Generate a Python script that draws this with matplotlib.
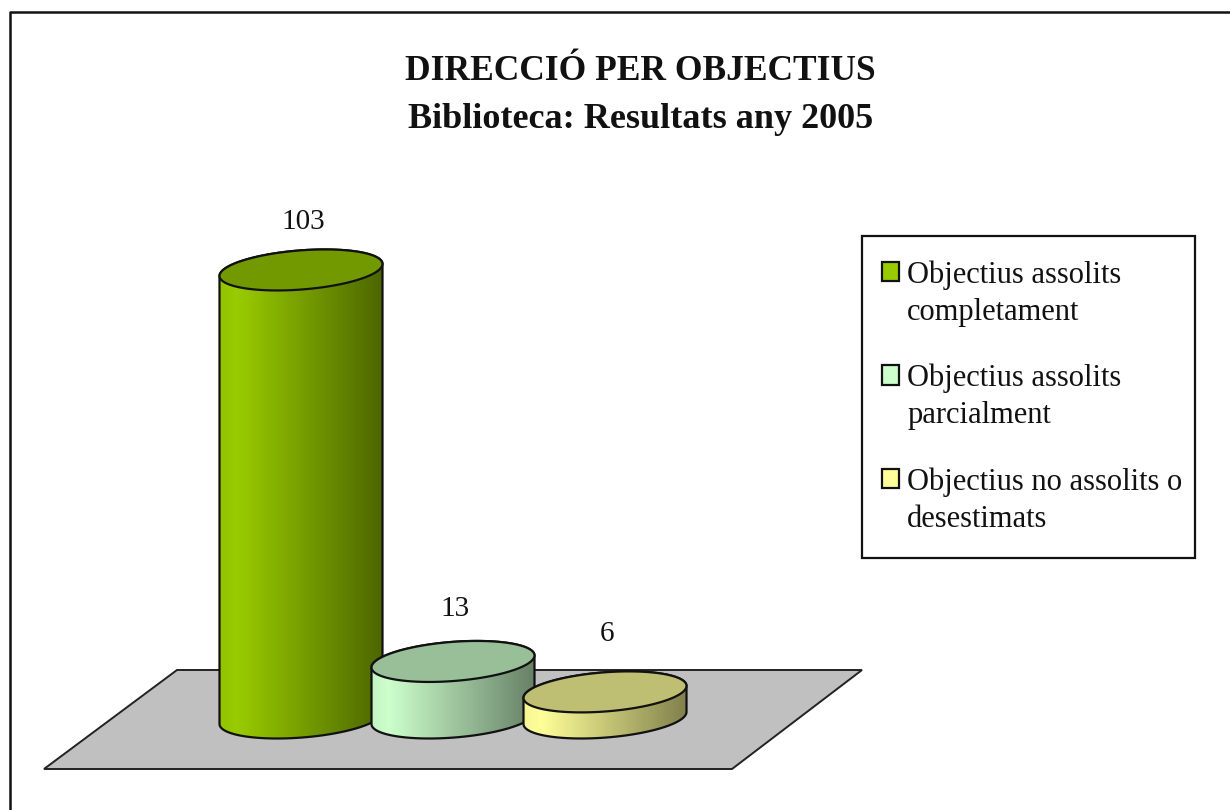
import numpy as np
import matplotlib
matplotlib.use("Agg")
import matplotlib.pyplot as plt
from matplotlib.patches import Polygon, Patch, Rectangle
from matplotlib.lines import Line2D

title_lines = ["DIRECCIÓ PER OBJECTIUS", "Biblioteca: Resultats any 2005"]
categories = ["Objectius assolits\ncompletament", "Objectius assolits\nparcialment", "Objectius no assolits o\ndesestimats"]
values = [103, 13, 6]
colors = ["#99CC00", "#CCFFCC", "#FFFF99"]
label_offsets = [25.5, 28.5, 32]

W, H = 1230, 810
plt.rcParams['font.family'] = ['Liberation Serif', 'DejaVu Serif']
fig = plt.figure(figsize=(W / 100, H / 100), dpi=100, facecolor='white')

# page axes in image pixels for frame, floor and legend box
page = fig.add_axes([0, 0, 1, 1])
page.set_xlim(0, W); page.set_ylim(H, 0); page.axis('off')
page.add_line(Line2D([10, 10, W], [H, 12, 12], color='#111111', lw=1.8))
page.add_patch(Polygon([(177, 670), (862, 670), (732, 769), (44, 769)], closed=True,
                       fc='#C0C0C0', ec='#222222', lw=1.4))
page.add_patch(Rectangle((862, 236), 333, 322, fc='white', ec='#111111', lw=1.6))
page.text(640, 72, title_lines[0], ha='center', va='center', fontsize=25.5, fontweight='bold', color='#111111')
page.text(641, 120, title_lines[1], ha='center', va='center', fontsize=26, fontweight='bold', color='#111111')

# data axes: x = category index, y = value, aligned with the floor
PX = 4.35
x0, step, y0 = 301.0, 152.0, 718.0
ax = fig.add_axes([0, 0, 1, 1], facecolor='none')
ax.axis('off')

a = 81.5 / step      # half width in category units
b = 19.6 / PX        # half depth in value units
s = 6.0 / PX         # shear of the ellipse


def ell(cx, cy, t):
    return cx + a * np.cos(t), cy + b * np.sin(t) + s * np.cos(t)


def make_gradient(hexcol):
    rgb = np.array(matplotlib.colors.to_rgb(hexcol))
    f = np.linspace(0, 1, 200)
    shade = np.where(f < 0.1, 0.96 + 0.4 * f, 1.0 - 0.5 * (f - 0.1) / 0.9)
    return (shade[None, :, None] * rgb[None, None, :]).clip(0, 1)


for i, (v, c) in enumerate(zip(values, colors)):
    t_low = np.linspace(np.pi, 2 * np.pi, 80)
    t_up = np.linspace(0, np.pi, 80)
    xl, yl = ell(i, 0, t_low)
    xu, yu = ell(i, v, t_up)
    side = Polygon(np.r_[np.c_[xl, yl], np.c_[xu, yu]], closed=True, fc='none', ec='#111111', lw=1.6, zorder=3 + 3 * i)
    ax.add_patch(side)
    im = ax.imshow(make_gradient(c), extent=(i - a, i + a, -b * 2, v + b * 2), aspect='auto',
                   zorder=2 + 3 * i, interpolation='bilinear')
    im.set_clip_path(side)
    tt = np.linspace(0, 2 * np.pi, 160)
    xt, yt = ell(i, v, tt)
    ax.add_patch(Polygon(np.c_[xt, yt], closed=True, fc=tuple(0.75 * np.array(matplotlib.colors.to_rgb(c))),
                         ec='#111111', lw=1.6, zorder=4 + 3 * i))
    ax.annotate(str(v), (i, v), xytext=(1.5, label_offsets[i]), textcoords='offset points', ha='center', va='bottom',
                fontsize=21, color='#111111', zorder=20)
ax.set_xlim((0 - x0) / step, (W - x0) / step)
ax.set_ylim((y0 - H) / PX, y0 / PX)

handles = [Patch(fc=c, ec='#111111', lw=1.6) for c in colors]
leg = ax.legend(handles, categories, loc='upper left',
                bbox_to_anchor=(882 / W, 1 - 260 / H), bbox_transform=fig.transFigure,
                fontsize=22, frameon=False, labelspacing=1.2, handlelength=0.56, handleheight=0.62,
                handletextpad=0.26, borderpad=0, borderaxespad=0, labelcolor='#111111')
for t in leg.get_texts():
    t.set_linespacing(1.38)
for p in leg.get_patches():
    p.set_y(p.get_y() + 16)
leg.set_zorder(30)

fig.savefig('out.png', dpi=100)
